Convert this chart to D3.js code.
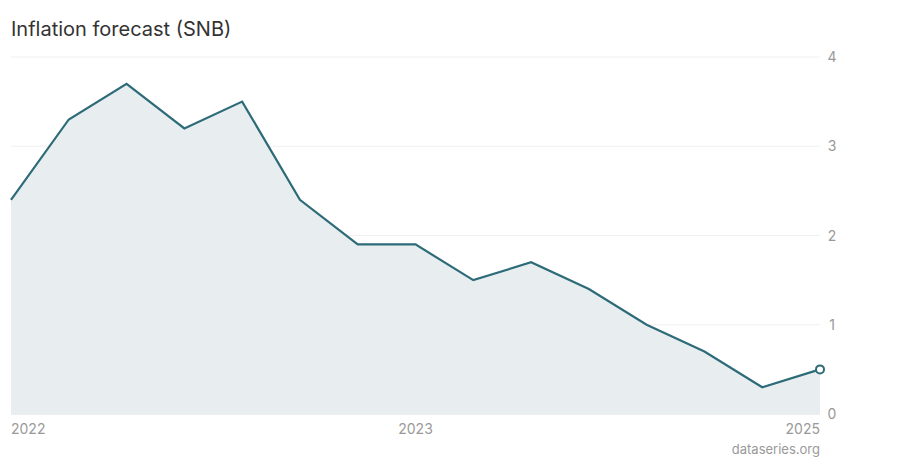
<!DOCTYPE html>
<html><head><meta charset="utf-8">
<script src="https://cdn.jsdelivr.net/npm/d3@7"></script>
<style>body{margin:0;background:#fff;font-family:Inter,"Noto Sans",sans-serif}</style>
</head><body><svg id="c" width="900" height="460"></svg>
<script>
const values=[2.4,3.3,3.7,3.2,3.5,2.4,1.9,1.9,1.5,1.7,1.4,1.0,0.7,0.3,0.5];
const xTickIdx=[0,7,14];
const xTickLabels=["2022","2023","2025"];
const yTicks=[0,1,2,3,4];
const svg=d3.select("#c");
const x=d3.scaleLinear().domain([0,values.length-1]).range([11,820]);
const y=d3.scaleLinear().domain([0,4]).range([414,57]);
svg.append("text").attr("x",11).attr("y",36).attr("font-size",20).attr("fill","#333").text("Inflation forecast (SNB)");
svg.selectAll(".g").data(yTicks).enter().append("line").attr("x1",11).attr("x2",820)
 .attr("y1",d=>y(d)).attr("y2",d=>y(d)).attr("stroke",d=>d===0?"#ddd":"#f0f0f0");
svg.selectAll(".yl").data(yTicks).enter().append("text").attr("x",832).attr("y",d=>y(d)+5)
 .attr("text-anchor","middle").attr("font-size",14).attr("fill","#999").text(d=>d);
svg.append("path").datum(values).attr("fill","#e8eef0")
 .attr("d",d3.area().x((d,i)=>x(i)).y0(y(0)).y1(d=>y(d)));
svg.append("path").datum(values).attr("fill","none").attr("stroke","#2e6b78").attr("stroke-width",2.2)
 .attr("d",d3.line().x((d,i)=>x(i)).y(d=>y(d)));
const n=values.length-1;
svg.append("circle").attr("cx",x(n)).attr("cy",y(values[n])).attr("r",4).attr("fill","#fff").attr("stroke","#2e6b78").attr("stroke-width",2);
svg.selectAll(".xl").data(xTickIdx).enter().append("text").attr("x",d=>x(d)).attr("y",434)
 .attr("text-anchor",(d,i)=>i===0?"start":i===xTickIdx.length-1?"end":"middle")
 .attr("font-size",14).attr("fill","#999").text((d,i)=>xTickLabels[i]);
svg.append("text").attr("x",820).attr("y",454).attr("text-anchor","end").attr("font-size",13).attr("fill","#999").text("dataseries.org");
</script></body></html>
